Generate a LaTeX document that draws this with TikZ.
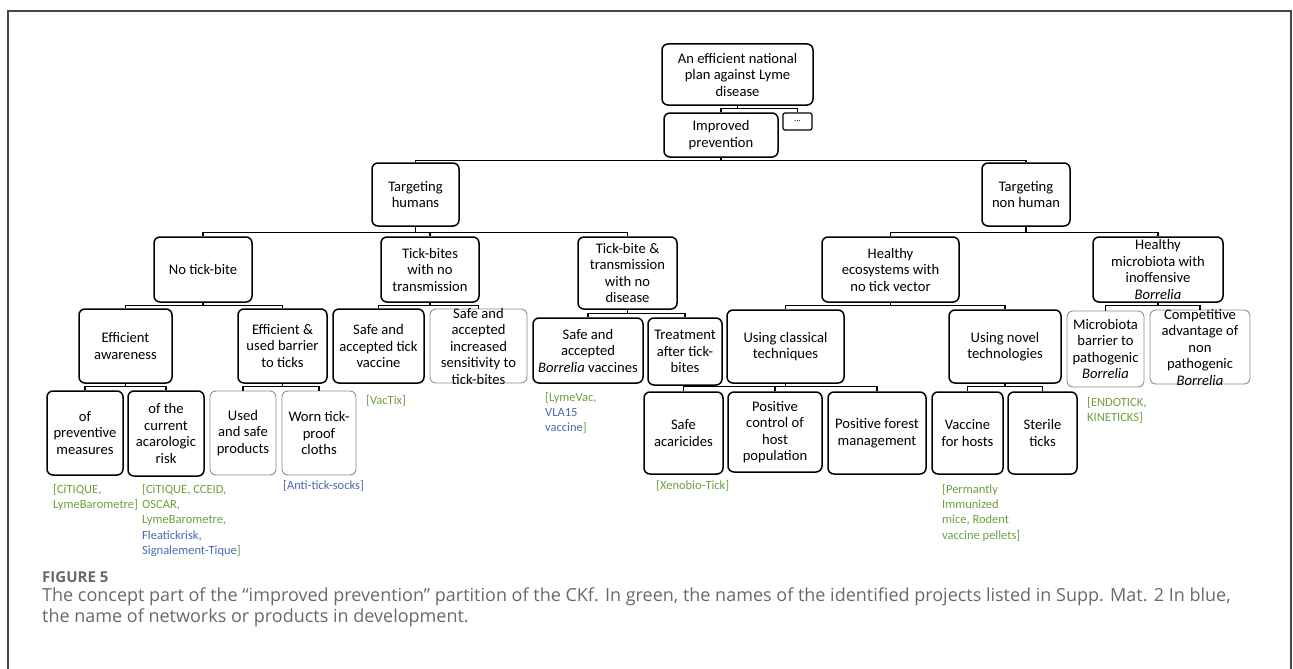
\documentclass[tikz,border=0pt]{standalone}
\usepackage{fontspec}
\setmainfont{Carlito}
\newfontfamily\capfont{Open Sans}
\usepackage{xcolor}
\usepackage{tikz}
\usetikzlibrary{positioning,calc}
\definecolor{notegreen}{RGB}{112,158,62}
\definecolor{noteblue}{RGB}{72,104,178}
\definecolor{framegray}{RGB}{70,70,70}
\definecolor{capgray}{RGB}{105,105,105}
\newcommand{\bor}{\textit{Borrelia}}
\newcommand{\blu}[1]{{\color{noteblue}#1}}

\begin{document}
\begin{tikzpicture}[x=1pt,y=-1pt,
    box/.style={draw,rounded corners=6pt,line width=1.5pt,align=center,inner sep=0pt,
      font=\fontsize{14.6}{16.5}\selectfont},
    softbox/.style={box,draw=black!45,line width=0.9pt},
    link/.style={line width=1.3pt},
    note/.style={anchor=north west,align=left,inner sep=0pt,text=notegreen,
      font=\fontsize{12.5}{15.3}\selectfont}]

  \useasboundingbox (0,0) rectangle (1293,669);
  \draw[framegray,line width=1.5pt] (8,669) -- (8,11) -- (1291,11) -- (1291,669);

  % top of the tree
  \node[box,minimum width=151,minimum height=61] at (737.5,74.5) (root) {An efficient national\\plan against Lyme\\disease};
  \node[box,minimum width=114,minimum height=44] at (721,135) (impr) {Improved\\prevention};
  \node[box,line width=1.2pt,rounded corners=2pt,minimum width=29,minimum height=17,font=\fontsize{9}{9}\selectfont] at (797.5,121.5) (dots) {...};

  \node[box,minimum width=87,minimum height=63] at (415.5,194.5) (humans) {Targeting\\humans};
  \node[box,minimum width=88,minimum height=63] at (1026,194.5) (nonhuman) {Targeting\\non human};

  % level 2
  \node[box,minimum width=98,minimum height=65] at (203,269.5) (notick) {No tick-bite};
  \node[box,minimum width=98,minimum height=65] at (430,269.5) (notrans) {Tick-bites\\with no\\transmission};
  \node[box,minimum width=99,minimum height=72] at (627.5,273) (nodis) {Tick-bite \&\\transmission\\with no\\disease};
  \node[box,minimum width=137,minimum height=65] at (890.5,269.5) (ecosys) {Healthy\\ecosystems with\\no tick vector};
  \node[box,inner ysep=-3pt,minimum width=130,minimum height=65] at (1158,269.5) (microb) {Healthy\\microbiota with\\inoffensive\\\bor};

  % level 3
  \node[box,minimum width=93,minimum height=74] at (125.5,346) (aware) {Efficient\\awareness};
  \node[box,minimum width=89,minimum height=74] at (282.5,346) (barrier) {Efficient \&\\used barrier\\to ticks};
  \node[box,minimum width=91,minimum height=74] at (378.5,346) (tickvac) {Safe and\\accepted tick\\vaccine};
  \node[softbox,inner ysep=-4pt,minimum width=97,minimum height=74] at (478.5,346) (sensit) {Safe and\\accepted\\increased\\sensitivity to\\tick-bites};
  \node[box,minimum width=110,minimum height=65] at (588,350.5) (borvac) {Safe and\\accepted\\\bor{} vaccines};
  \node[box,minimum width=74,minimum height=67] at (685,351.5) (treat) {Treatment\\after tick-\\bites};
  \node[box,minimum width=117,minimum height=73] at (785.5,346.5) (classic) {Using classical\\techniques};
  \node[box,minimum width=112,minimum height=73] at (1005,346.5) (novel) {Using novel\\technologies};
  \node[softbox,minimum width=77,minimum height=76] at (1105.5,349) (mbarrier) {Microbiota\\barrier to\\pathogenic\\\bor};
  \node[softbox,inner ysep=-4pt,minimum width=100,minimum height=74] at (1200,347) (compet) {Competitive\\advantage of\\non\\pathogenic\\\bor};

  % level 4
  \node[box,minimum width=76,minimum height=84] at (85,433) (prevm) {of\\preventive\\measures};
  \node[box,minimum width=76,minimum height=85] at (166,433.5) (acaro) {of the\\current\\acarologic\\risk};
  \node[softbox,minimum width=66,minimum height=84] at (243,433) (products) {Used\\and safe\\products};
  \node[softbox,minimum width=74,minimum height=84] at (319,433) (cloths) {Worn tick-\\proof\\cloths};
  \node[box,minimum width=79,minimum height=82] at (683.5,433) (acaric) {Safe\\acaricides};
  \node[box,minimum width=94,minimum height=80] at (775,432) (hostpop) {Positive\\control of\\host\\population};
  \node[box,minimum width=98,minimum height=82] at (877,433) (forest) {Positive forest\\management};
  \node[box,minimum width=71,minimum height=82] at (967.5,433) (vachost) {Vaccine\\for hosts};
  \node[box,minimum width=69,minimum height=82] at (1042.5,433) (sterile) {Sterile\\ticks};

  % connectors
  \draw[link] (root.south) -- ++(0,3) -| (impr.north);
  \draw[link] (root.south) -- ++(0,3) -| (dots.north);
  \draw[link] (impr.south) -- ++(0,3) -| (humans.north);
  \draw[link] (impr.south) -- ++(0,3) -| (nonhuman.north);

  \draw[link] (humans.south) -- ++(0,6) -| (notick.north);
  \draw[link] (humans.south) -- ++(0,6) -| (notrans.north);
  \draw[link] (humans.south) -- ++(0,6) -| (nodis.north);
  \draw[link] (nonhuman.south) -- ++(0,6) -| (ecosys.north);
  \draw[link] (nonhuman.south) -- ++(0,6) -| (microb.north);

  \draw[link] (notick.south) -- ++(0,3) -| (aware.north);
  \draw[link] (notick.south) -- ++(0,3) -| (barrier.north);
  \draw[link] (notrans.south) -- ++(0,3) -| (tickvac.north);
  \draw[link] (notrans.south) -- ++(0,3) -| (sensit.north);
  \draw[link] (nodis.south) -- ++(0,4) -| (borvac.north);
  \draw[link] (nodis.south) -- ++(0,4) -| (treat.north);
  \draw[link] (ecosys.south) -- ++(0,3) -| (classic.north);
  \draw[link] (ecosys.south) -- ++(0,3) -| (novel.north);
  \draw[link] (microb.south) -- ++(0,3) -| (mbarrier.north);
  \draw[link] (microb.south) -- ++(0,3) -| (compet.north);

  \draw[link] (aware.south) -- ++(0,3) -| (prevm.north);
  \draw[link] (aware.south) -- ++(0,3) -| (acaro.north);
  \draw[link] (barrier.south) -- ++(0,3) -| (products.north);
  \draw[link] (barrier.south) -- ++(0,3) -| (cloths.north);
  \draw[link] (classic.south) -- ++(0,3) -| (acaric.north);
  \draw[link] (classic.south) -- ++(0,3) -| (hostpop.north);
  \draw[link] (classic.south) -- ++(0,3) -| (forest.north);
  \draw[link] (novel.south) -- ++(0,3) -| (vachost.north);
  \draw[link] (novel.south) -- ++(0,3) -| (sterile.north);

  % projects and products
  \node[note] at (53,484) (nprev) {[CiTIQUE,\\LymeBarometre]};
  \node[note] at (142,484) (nacaro) {[CiTIQUE, CCEID,\\OSCAR,\\LymeBarometre,\\\blu{Fleatickrisk,}\\\blu{Signalement-Tique}]};
  \node[note,text=noteblue] at (283,480) (ncloths) {[Anti-tick-socks]};
  \node[note] at (366,395) (ntickvac) {[VacTix]};
  \node[note] at (545,392) (nborvac) {[LymeVac,\\\blu{VLA15}\\\blu{vaccine}]};
  \node[note] at (656,480) (nacaric) {[Xenobio-Tick]};
  \node[note] at (942,484) (nvachost) {[Permantly\\Immunized\\mice, Rodent\\vaccine pellets]};
  \node[note] at (1087,397) (nmbarrier) {[ENDOTICK,\\KINETICKS]};

  % caption
  \node[anchor=west,inner sep=0pt,text=capgray,font=\capfont\bfseries\fontsize{15}{16}\selectfont] at (42,577) (figlabel) {FIGURE 5};
  \node[anchor=north west,align=left,inner sep=0pt,text=capgray,font=\capfont\fontsize{18}{21}\selectfont] at (42,588) (caption) {The concept part of the “improved prevention” partition of the CKf. In green, the names of the identified projects listed in Supp. Mat. 2 In blue,\\the name of networks or products in development.};

\end{tikzpicture}
\end{document}
